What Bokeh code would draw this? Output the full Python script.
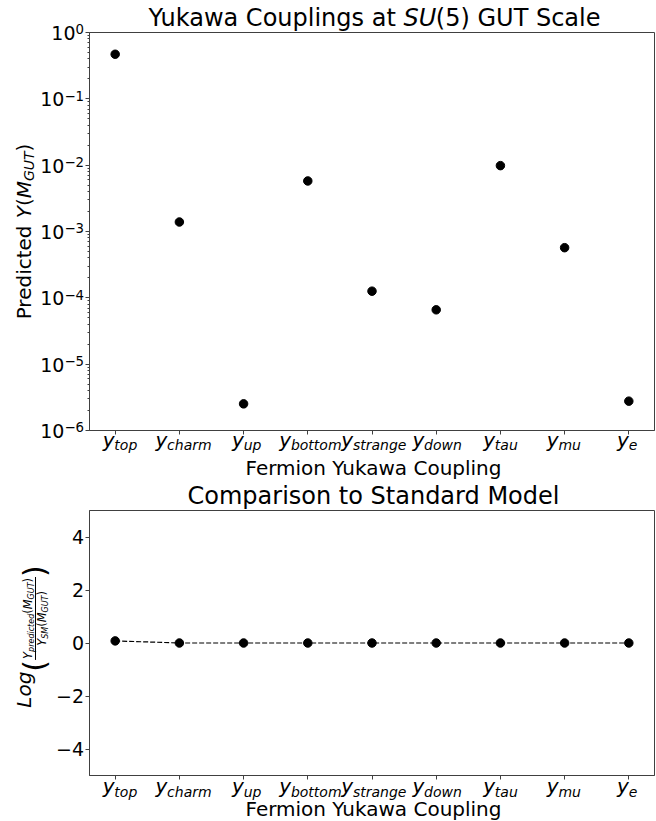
import math
from bokeh.plotting import figure
from bokeh.layouts import column, row
from bokeh.models import (FixedTicker, CustomJSTickFormatter, Label, Range1d,
                          ColumnDataSource)
from bokeh.embed import file_html
from bokeh.resources import INLINE

# ---------------- data ----------------
couplings = ["top", "charm", "up", "bottom", "strange", "down", "tau", "mu", "e"]
yukawa_gut = [0.47, 1.39e-3, 2.52e-6, 5.78e-3, 1.26e-4, 6.6e-5, 9.84e-3, 5.70e-4, 2.77e-6]
log_ratio_sm = [0.08, 0.0, 0.0, 0.0, 0.0, 0.0, 0.0, 0.0, 0.0]
decade_exponents = [-6, -5, -4, -3, -2, -1, 0]
ratio_ticks = [-4, -2, 0, 2, 4]

# ---------------- geometry (page pixels) ----------------
FONT = "DejaVu Sans"
AX_COL = "#404040"
MID = 0.346                 # baseline -> middle of the DejaVu line box, in em
W_LEFT = 84
W_RIGHT = 656 - W_LEFT
FX_LEFT, FX_RIGHT = 89, 654
X_LO, X_HI = -0.4, 8.4
UNIT = (FX_RIGHT - FX_LEFT) / (X_HI - X_LO)
FX_CENTER = (FX_LEFT + FX_RIGHT) / 2

F1_TOP, F1_BOT = 32, 430
F2_TOP, F2_BOT = 510, 775
DEC = (F1_BOT - F1_TOP) / 6.0
R_UNIT = (F2_BOT - F2_TOP) / 10.0

S0 = (0, 31)
P1R = (31, 435)
S1 = (435, 509)
P2R = (509, 780)
S3 = (780, 821)
LSPLIT = 470

ADV = {' ': 651, '(': 799, ')': 799, '0': 1303, '1': 1303, '2': 1303, '3': 1303,
       '4': 1303, '5': 1303, '6': 1303, '\u2212': 1716, 'C': 1430, 'F': 1178,
       'G': 1577, 'L': 1141, 'M': 1767, 'P': 1235, 'S': 1300, 'T': 1251, 'U': 1499,
       'Y': 1251, 'a': 1255, 'b': 1300, 'c': 1126, 'd': 1300, 'e': 1260, 'g': 1300,
       'h': 1298, 'i': 569, 'k': 1186, 'l': 569, 'm': 1995, 'n': 1298, 'o': 1253,
       'p': 1300, 'r': 842, 's': 1067, 't': 803, 'u': 1298, 'w': 1675, 'y': 1212}


def tw(s, size):
    return sum(ADV.get(c, 1250) for c in s) / 2048.0 * size


def xr_data(px):
    return X_LO + (px - FX_LEFT) / UNIT


def y_log(py):
    return 10 ** (-(py - F1_TOP) / DEC)


def y_lin(py):
    return 5 - (py - F2_TOP) / R_UNIT


def ident(v):
    return v


def put(p, fx, fy, px, py, text, size, italic=False, align="left", rotated=False):
    """px, py: page position of the text baseline start (or centre when align=center)"""
    if rotated:
        ax, ay, ang = px - MID * size, py, math.pi / 2
    else:
        ax, ay, ang = px, py - MID * size, 0.0
    p.add_layout(Label(x=fx(ax), y=fy(ay), text=text, text_font=FONT,
                       text_font_size=f"{size}px",
                       text_font_style="italic" if italic else "normal",
                       text_color="black", text_align=align,
                       text_baseline="middle", angle=ang))


def bare(p):
    p.background_fill_color = None
    p.border_fill_color = "white"
    p.outline_line_color = None
    p.grid.grid_line_color = None


def strip(top_bot):
    top, bot = top_bot
    h = bot - top
    p = figure(width=W_RIGHT, height=h, output_backend="svg", toolbar_location=None,
               x_range=Range1d(xr_data(W_LEFT), xr_data(656)),
               y_range=Range1d(h, 0), x_axis_location=None, y_axis_location=None,
               min_border_left=0, min_border_right=0, min_border_top=0,
               min_border_bottom=0)
    bare(p)
    return p, (lambda py: py - top)


def add_run(p, fy, parts, start_px, base_py):
    px = start_px
    for text, size, italic, dy in parts:
        put(p, xr_data, fy, px, base_py + dy, text, size, italic)
        px += tw(text, size)


def add_vrun(p, fy, parts, start_py):
    py = start_py
    for text, size, italic, bx in parts:
        put(p, ident, fy, bx, py, text, size, italic, rotated=True)
        py -= tw(text, size)


def x_tick_labels(p, fy, base_py):
    for i, name in enumerate(couplings):
        center = FX_LEFT + (i - X_LO) * UNIT
        wm, ws = tw("y", 20), tw(name, 14)
        start = center - (wm + ws) / 2
        put(p, xr_data, fy, start, base_py, "y", 20, True)
        put(p, xr_data, fy, start + wm, base_py + 3.5, name, 14, True)


def plot_axes(p):
    p.background_fill_color = "white"
    p.border_fill_color = "white"
    p.outline_line_color = AX_COL
    p.outline_line_width = 1
    p.grid.grid_line_color = None
    for ax in (p.xaxis[0], p.yaxis[0]):
        ax.axis_line_color = AX_COL
        ax.major_tick_line_color = AX_COL
        ax.minor_tick_line_color = AX_COL
        ax.major_tick_in = 0
        ax.major_tick_out = 4
        ax.minor_tick_in = 0
        ax.minor_tick_out = 2
        ax.major_label_standoff = 0
        ax.major_label_text_font_size = "0px"
        ax.formatter = CustomJSTickFormatter(code="return '';")
    p.xaxis.ticker = FixedTicker(ticks=list(range(len(couplings))))


xs = list(range(len(couplings)))
decade_ticks = [10.0 ** e for e in decade_exponents]

# ---------------- right column ----------------
s0, s0y = strip(S0)
t_parts = [("Yukawa Couplings at ", 24, False, 0), ("SU", 24, True, 0),
           ("(5) GUT Scale", 24, False, 0)]
t_w = sum(tw(t, s) for t, s, _, _ in t_parts)
add_run(s0, s0y, t_parts, FX_CENTER - t_w / 2, 25.5)

p1 = figure(width=W_RIGHT, height=P1R[1] - P1R[0], y_axis_type="log",
            output_backend="svg", toolbar_location=None,
            x_range=Range1d(X_LO, X_HI), y_range=Range1d(1e-6, 1.0),
            min_border_left=FX_LEFT - W_LEFT, min_border_right=656 - FX_RIGHT,
            min_border_top=F1_TOP - P1R[0], min_border_bottom=P1R[1] - F1_BOT)
plot_axes(p1)
minor = [m * d for d in decade_ticks[:-1] for m in range(2, 10)]
p1.yaxis.ticker = FixedTicker(ticks=decade_ticks, minor_ticks=minor)
p1.scatter("x", "y", source=ColumnDataSource(dict(x=xs, y=yukawa_gut)),
           size=8.5, color="black")

s1, s1y = strip(S1)
x_tick_labels(s1, s1y, 446)
put(s1, xr_data, s1y, FX_CENTER, 474, "Fermion Yukawa Coupling", 20, align="center")
put(s1, xr_data, s1y, FX_CENTER, 504, "Comparison to Standard Model", 24, align="center")

p2 = figure(width=W_RIGHT, height=P2R[1] - P2R[0], output_backend="svg",
            toolbar_location=None, x_range=Range1d(X_LO, X_HI), y_range=Range1d(-5, 5),
            min_border_left=FX_LEFT - W_LEFT, min_border_right=656 - FX_RIGHT,
            min_border_top=F2_TOP - P2R[0], min_border_bottom=P2R[1] - F2_BOT)
plot_axes(p2)
p2.yaxis.ticker = FixedTicker(ticks=ratio_ticks)
src2 = ColumnDataSource(dict(x=xs, y=log_ratio_sm))
p2.line("x", "y", source=src2, line_dash="5 2", line_width=1.2, color="black")
p2.scatter("x", "y", source=src2, size=8.5, color="black")

s3, s3y = strip(S3)
x_tick_labels(s3, s3y, 792.5)
put(s3, xr_data, s3y, FX_CENTER, 815.5, "Fermion Yukawa Coupling", 20, align="center")

right = column(s0, p1, s1, p2, s3)

# ---------------- left column ----------------
l1 = figure(width=W_LEFT, height=LSPLIT, y_axis_type="log", output_backend="svg",
            toolbar_location=None, x_range=Range1d(0, W_LEFT),
            y_range=Range1d(y_log(LSPLIT), y_log(0)),
            x_axis_location=None, y_axis_location=None,
            min_border_left=0, min_border_right=0, min_border_top=0, min_border_bottom=0)
bare(l1)
R_EDGE = W_LEFT - 0.5
SUP = 13.3
for e in decade_exponents:
    tick_px = F1_TOP - e * DEC
    sup = str(e).replace("-", "\u2212")
    ws = tw(sup, SUP)
    put(l1, ident, y_log, R_EDGE - ws, tick_px + 7.0, "10", 19, align="right")
    put(l1, ident, y_log, R_EDGE - ws, tick_px + 1.5, sup, SUP)

yl = [("Predicted ", 20, False, 30), ("Y", 20, True, 30), ("(", 20, False, 30),
      ("M", 20, True, 30), ("GUT", 14, True, 33.5), (")", 20, False, 30)]
yl_w = sum(tw(t, s) for t, s, _, _ in yl)
add_vrun(l1, y_log, yl, (F1_TOP + F1_BOT) / 2 + yl_w / 2)

l2 = figure(width=W_LEFT, height=821 - LSPLIT, output_backend="svg",
            toolbar_location=None, x_range=Range1d(0, W_LEFT),
            y_range=Range1d(y_lin(821), y_lin(LSPLIT)),
            x_axis_location=None, y_axis_location=None,
            min_border_left=0, min_border_right=0, min_border_top=0, min_border_bottom=0)
bare(l2)
for t in ratio_ticks:
    tick_px = F2_TOP + (5 - t) * R_UNIT
    lab = ("\u2212" + str(abs(t))) if t < 0 else str(t)
    put(l2, ident, y_lin, R_EDGE, tick_px + 7.0, lab, 19, align="right")

NS, SS = 11.5, 8
BAR_X = 35
num = [("Y", NS, True, 31), ("predicted", SS, True, 33.5), ("(", NS, False, 31),
       ("M", NS, True, 31), ("GUT", SS, True, 33.5), (")", NS, False, 31)]
den = [("Y", NS, True, 45.5), ("SM", SS, True, 48), ("(", NS, False, 45.5),
       ("M", NS, True, 45.5), ("GUT", SS, True, 48), (")", NS, False, 45.5)]
num_w = sum(tw(t, s) for t, s, _, _ in num)
den_w = sum(tw(t, s) for t, s, _, _ in den)
frac_w = num_w + 2
PAREN = 30
paren_base = BAR_X + 9.4
log_w = tw("Log", 20)
par_w = tw("(", PAREN)
total = log_w + par_w + frac_w + par_w
start = 636 + total / 2
add_vrun(l2, y_lin, [("Log", 20, True, 30), ("(", PAREN, False, paren_base)], start)
f_start = start - log_w - par_w
add_vrun(l2, y_lin, num, f_start - 1)
add_vrun(l2, y_lin, den, f_start - (frac_w - den_w) / 2)
l2.segment(x0=[BAR_X], y0=[y_lin(f_start)], x1=[BAR_X], y1=[y_lin(f_start - frac_w)],
           line_color="black", line_width=1)
add_vrun(l2, y_lin, [(")", PAREN, False, paren_base)], f_start - frac_w)

left = column(l1, l2)
layout = row(left, right)

with open("out.html", "w", encoding="utf-8") as fh:
    fh.write(file_html(layout, INLINE))
